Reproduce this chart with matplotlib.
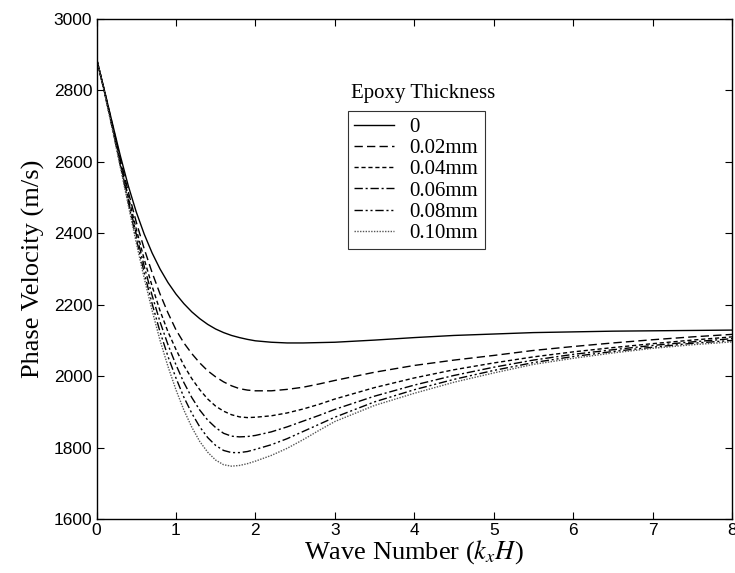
import matplotlib
matplotlib.use("Agg")
import matplotlib.pyplot as plt

plt.rcParams["mathtext.fontset"] = "stix"

# Wellenzahl k_x H
wave_number = [0, 0.1, 0.2, 0.3, 0.4, 0.5, 0.6, 0.7, 0.8, 0.9, 1.0, 1.1, 1.2, 1.3, 1.4, 1.5,
               1.6, 1.7, 1.8, 1.9, 2.0, 2.2, 2.4, 2.6, 2.8, 3.0, 3.5, 4.0, 4.5, 5.0, 5.5,
               6.0, 6.5, 7.0, 7.5, 8.0]

# Phasengeschwindigkeit (m/s) je Epoxid-Dicke
v_0 = [2890, 2800, 2708, 2617, 2533, 2460, 2398, 2345, 2300, 2262, 2230, 2203, 2180, 2161,
       2145, 2132, 2122, 2114, 2108, 2103, 2099, 2095, 2093, 2093, 2094, 2095, 2101, 2108,
       2114, 2118, 2122, 2124, 2126, 2127, 2128, 2129]
v_002 = [2890, 2799, 2704, 2608, 2516, 2432, 2357, 2290, 2230, 2177, 2130, 2093, 2063, 2037,
         2015, 1998, 1984, 1973, 1965, 1961, 1959, 1959, 1963, 1969, 1978, 1988, 2011, 2030,
         2045, 2058, 2072, 2083, 2093, 2102, 2110, 2117]
v_004 = [2890, 2798, 2700, 2600, 2503, 2412, 2328, 2252, 2183, 2124, 2075, 2030, 1993, 1962,
         1936, 1916, 1902, 1892, 1886, 1884, 1885, 1889, 1897, 1908, 1921, 1936, 1968, 1995,
         2018, 2037, 2054, 2068, 2080, 2091, 2101, 2110]
v_006 = [2890, 2796, 2697, 2595, 2494, 2398, 2308, 2226, 2152, 2088, 2032, 1982, 1940, 1905,
         1877, 1856, 1840, 1832, 1830, 1831, 1834, 1844, 1858, 1874, 1890, 1907, 1944, 1975,
         2002, 2025, 2045, 2061, 2074, 2086, 2096, 2105]
v_008 = [2890, 2795, 2694, 2590, 2486, 2385, 2290, 2203, 2124, 2055, 1995, 1941, 1896, 1858,
         1828, 1806, 1792, 1786, 1786, 1789, 1795, 1808, 1825, 1845, 1865, 1885, 1928, 1962,
         1991, 2016, 2038, 2055, 2069, 2081, 2092, 2100]
v_010 = [2890, 2794, 2691, 2585, 2479, 2374, 2275, 2184, 2100, 2027, 1962, 1905, 1857, 1817,
         1787, 1765, 1752, 1748, 1750, 1755, 1762, 1778, 1798, 1822, 1848, 1873, 1918, 1952,
         1983, 2009, 2033, 2050, 2065, 2078, 2088, 2096]

labels = ["0", "0.02mm", "0.04mm", "0.06mm", "0.08mm", "0.10mm"]
series = [v_0, v_002, v_004, v_006, v_008, v_010]
styles = ["-", (0, (6, 3)), (0, (3, 2)), (0, (6, 2, 1.5, 2)),
          (0, (6, 2, 1.5, 2, 1.5, 2)), (0, (1, 1))]
colors = ["black", "black", "black", "black", "black", "#555555"]

fig = plt.figure(figsize=(7.35, 5.73), dpi=100)
ax = fig.add_axes([0.1313, 0.0942, 0.8646, 0.8726])

for v, lab, ls, c in zip(series, labels, styles, colors):
    ax.plot(wave_number, v, linestyle=ls, color=c, linewidth=1.0, label=lab)

ax.set_xlim(0, 8)
ax.set_ylim(1600, 3000)
ax.set_xticks(range(0, 9))
ax.set_yticks(range(1600, 3001, 200))
ax.tick_params(direction="in", top=True, right=True, length=5, width=0.8,
               labelsize=12.5, pad=3)
for lbl in ax.get_xticklabels() + ax.get_yticklabels():
    lbl.set_fontfamily("Liberation Sans")
for sp in ax.spines.values():
    sp.set_linewidth(1.0)

ax.set_xlabel("Wave Number ($k_xH$)", fontfamily="Liberation Serif", fontsize=19, labelpad=0)
ax.set_ylabel("Phase Velocity (m/s)", fontfamily="Liberation Serif", fontsize=19, labelpad=6)

ax.text(0.514, 0.852, "Epoxy Thickness", transform=ax.transAxes, ha="center", va="center",
        fontfamily="Liberation Serif", fontsize=15)
leg = ax.legend(loc="upper left", bbox_to_anchor=(0.396, 0.816), borderaxespad=0,
                frameon=True, fancybox=False, edgecolor="black", handlelength=1.9,
                handletextpad=0.75, labelspacing=0.08, borderpad=0.3,
                prop={"family": "Liberation Serif", "size": 15})
leg.get_frame().set_linewidth(0.8)

fig.savefig("out.png", dpi=100)
